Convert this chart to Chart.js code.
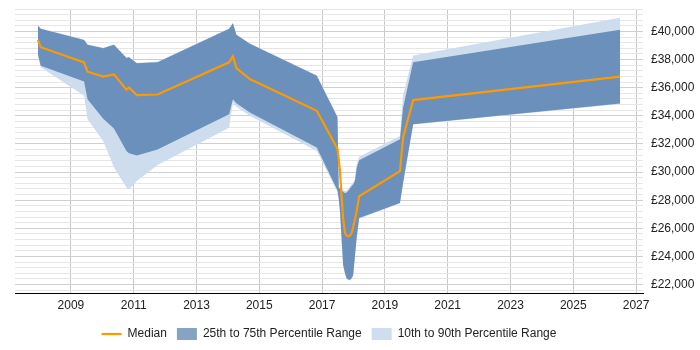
<!DOCTYPE html>
<html>
<head>
<meta charset="utf-8">
<script src="https://cdn.jsdelivr.net/npm/chart.js@4.4.1/dist/chart.umd.min.js"></script>
<style>
html, body { margin: 0; padding: 0; background: #fff; }
#wrap { width: 700px; height: 350px; }
</style>
</head>
<body>
<div id="wrap"><canvas id="salaryChart"></canvas></div>
<script>
// sample dates (decimal years) shared by all series
const years = [2007.95, 2008.04, 2009.42, 2009.53, 2010.03, 2010.37, 2010.77, 2010.85, 2011.10, 2011.76,
    2014.04, 2014.16, 2014.27, 2014.70, 2016.83, 2017.49, 2017.53, 2017.57, 2017.62, 2017.67,
    2017.73, 2017.78, 2017.83, 2017.89, 2017.94, 2017.99, 2018.05, 2018.10, 2018.18, 2019.48,
    2019.58, 2019.90, 2026.49];

const median = [39400, 38880, 37800, 37140, 36800, 36950, 35860, 36020, 35480, 35520,
    37810, 38240, 37400, 36620, 34360, 31650, 30900, 30070, 28300, 26700,
    25700, 25480, 25430, 25500, 25660, 26100, 26700, 27200, 28280, 30070,
    32470, 35120, 36790];

const p75 = [40430, 40190, 39400, 39050, 38810, 39050, 38120, 38170, 37740, 37810,
    40190, 40590, 39760, 39120, 36860, 33900, 28900, 28800, 28700, 28600,
    28500, 28550, 28650, 28850, 29000, 29120, 29400, 30300, 30850, 32330,
    34590, 37810, 40120];

const p25 = [38400, 37570, 36450, 35190, 33800, 33100, 31500, 31350, 31190, 31600,
    34120, 35190, 34900, 34240, 31750, 28700, 28100, 27210, 25310, 23400,
    22800, 22450, 22370, 22340, 22450, 22690, 24120, 25310, 26740, 27810,
    29250, 33410, 34880];

const p90 = [40460, 40220, 39430, 39080, 38840, 39080, 38150, 38200, 37770, 37840,
    40220, 40620, 39790, 39150, 36890, 33930, 28950, 28950, 28850, 28750,
    28650, 28700, 28800, 29000, 29150, 29270, 29550, 30550, 31100, 32570,
    35500, 38290, 40980];

const p10 = [38200, 37450, 35430, 33760, 32210, 30350, 28900, 28770, 29360, 30500,
    33150, 34950, 34650, 34000, 31500, 28600, 28050, 27160, 25260, 23350,
    22750, 22400, 22320, 22290, 22400, 22640, 24070, 25260, 26690, 27780,
    29200, 33380, 34850];

const yearTicks = [2009, 2011, 2013, 2015, 2017, 2019, 2021, 2023, 2025, 2027];
const salaryTicks = [22000, 24000, 26000, 28000, 30000, 32000, 34000, 36000, 38000, 40000];
const minorStep = 400;

const darkFill = 'rgb(106,144,187)';
const lightFill = 'rgb(205,221,238)';

function toPoints(values) {
    return values.map((v, i) => ({ x: years[i], y: v }));
}

function money(v) {
    return '£' + String(v).replace(/\B(?=(\d{3})+(?!\d))/g, ',');
}

// minor grid every 400, labels only on the 2000 steps
const gridValues = [];
for (let v = salaryTicks[0] - minorStep; v <= salaryTicks[salaryTicks.length - 1] + 4 * minorStep; v += minorStep) {
    gridValues.push(v);
}

const ctx = document.getElementById('salaryChart').getContext('2d');
const chart = new Chart(ctx, {
    type: 'line',
    data: {
        datasets: [{
            label: 'Median',
            data: toPoints(median),
            borderColor: '#ff9900',
            backgroundColor: '#ff9900',
            borderWidth: 2.2,
            pointRadius: 0,
            pointStyle: 'line',
            fill: false
        }, {
            label: '25th to 75th Percentile Range',
            data: toPoints(p75),
            borderWidth: 0,
            pointRadius: 0,
            pointStyle: 'rect',
            backgroundColor: 'rgb(135,163,196)',
            fill: { target: '+1', above: darkFill, below: darkFill }
        }, {
            label: '',
            data: toPoints(p25),
            borderWidth: 0,
            pointRadius: 0,
            fill: false
        }, {
            label: '10th to 90th Percentile Range',
            data: toPoints(p90),
            borderWidth: 0,
            pointRadius: 0,
            pointStyle: 'rect',
            backgroundColor: 'rgb(206,222,238)',
            fill: { target: '+1', above: lightFill, below: lightFill }
        }, {
            label: '',
            data: toPoints(p10),
            borderWidth: 0,
            pointRadius: 0,
            fill: false
        }]
    },
    options: {
        responsive: true,
        maintainAspectRatio: false,
        animation: false,
        layout: { padding: { left: 15, right: 0, top: 9, bottom: 0 } },
        font: { family: "'Liberation Sans', Arial, sans-serif", size: 12 },
        scales: {
            x: {
                type: 'linear',
                min: 2007.22,
                max: 2027.22,
                afterBuildTicks: (scale) => {
                    scale.ticks = yearTicks.map((y) => ({ value: y }));
                },
                ticks: {
                    autoSkip: false,
                    maxRotation: 0,
                    padding: 5,
                    color: '#222',
                    font: { family: "'Liberation Sans', Arial, sans-serif", size: 12 },
                    callback: (v) => String(v)
                },
                grid: { color: '#c8c8c8', drawTicks: false },
                border: { display: true, color: '#000', width: 1 }
            },
            y: {
                position: 'right',
                min: 21360,
                max: 41600,
                afterBuildTicks: (scale) => {
                    scale.ticks = gridValues.map((v) => ({ value: v }));
                },
                afterFit: (scale) => {
                    scale.width = 57;
                    scale.paddingTop = 0;
                    scale.paddingBottom = 0;
                },
                ticks: {
                    autoSkip: false,
                    padding: 8,
                    color: '#222',
                    font: { family: "'Liberation Sans', Arial, sans-serif", size: 12 },
                    callback: (v) => (v % 2000 === 0 && v >= 22000 && v <= 40000) ? money(v) : ''
                },
                grid: {
                    drawTicks: false,
                    color: (c) => (c.tick && c.tick.value % 2000 === 0) ? '#cfcfcf' : '#e6e6e6'
                },
                border: { display: false }
            }
        },
        plugins: {
            tooltip: { enabled: false },
            legend: {
                position: 'bottom',
                fullSize: false,
                labels: {
                    usePointStyle: true,
                    pointStyleWidth: 20,
                    boxHeight: 12,
                    padding: 10,
                    color: '#222',
                    font: { family: "'Liberation Sans', Arial, sans-serif", size: 12 },
                    filter: (item) => item.text !== ''
                }
            }
        }
    }
});
</script>
</body>
</html>
